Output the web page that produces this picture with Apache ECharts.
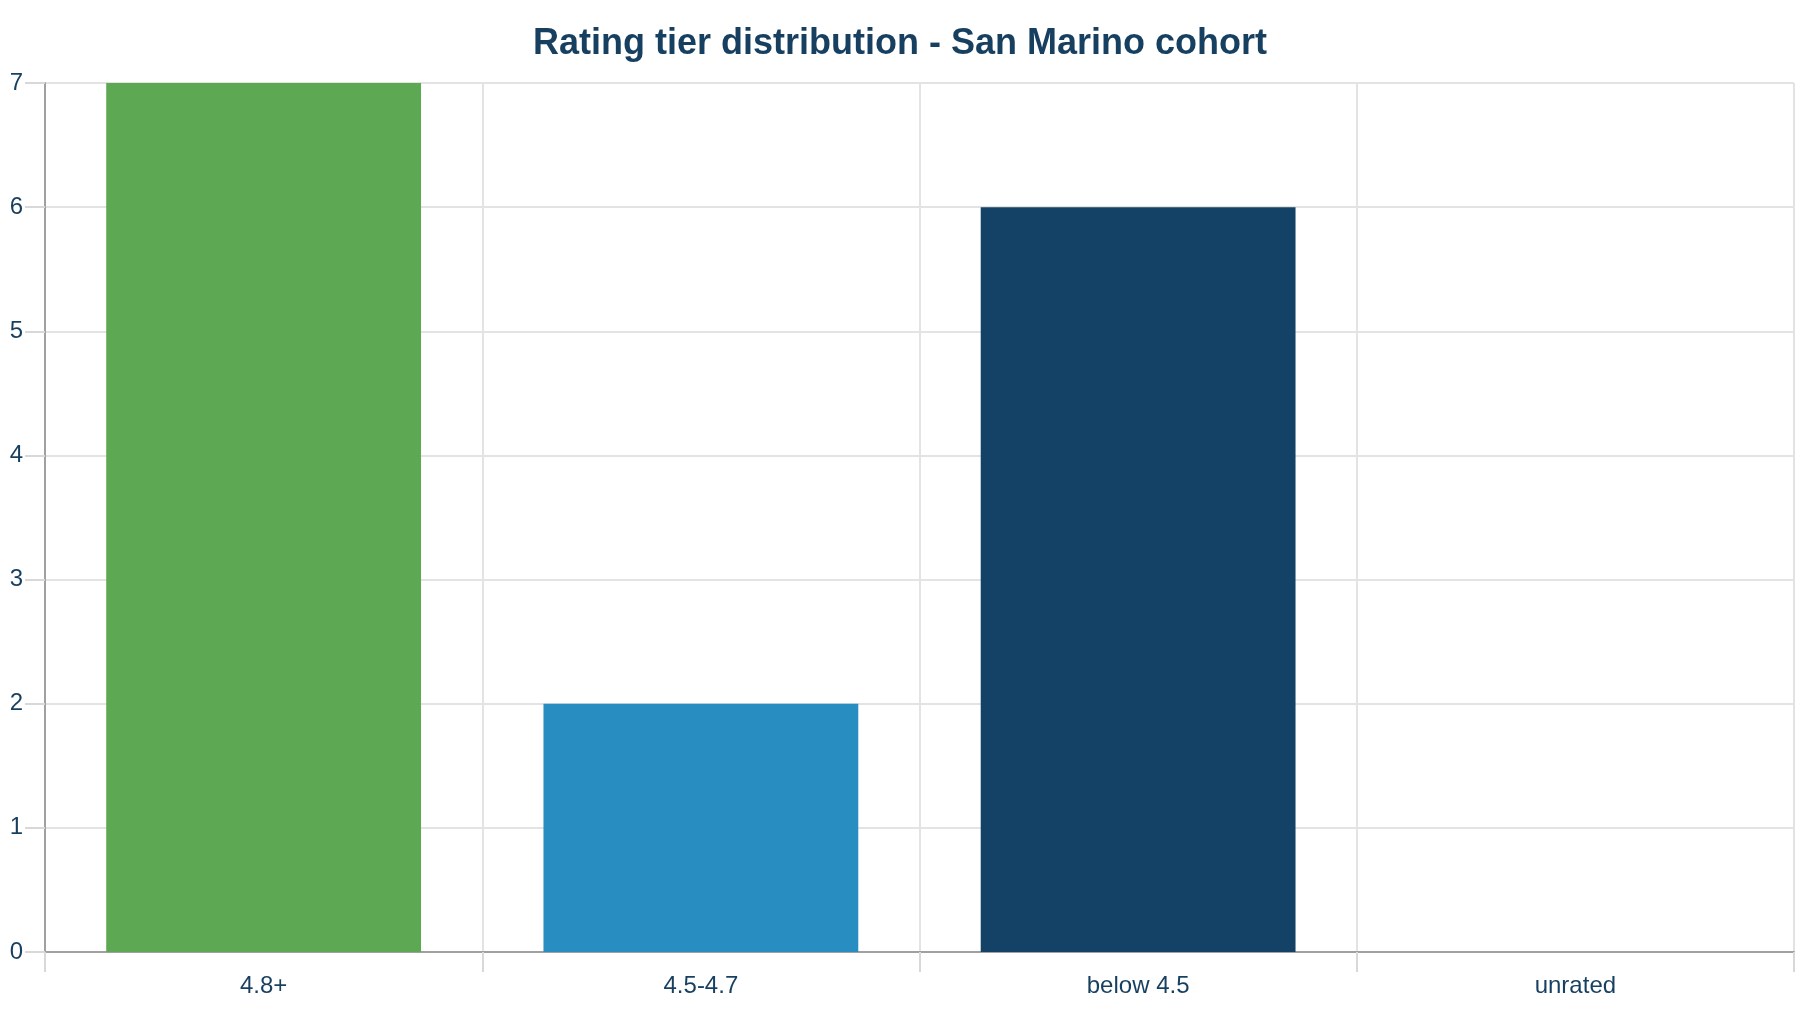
<!DOCTYPE html>
<html>
<head>
<meta charset="utf-8">
<title>Rating tier distribution</title>
<script src="https://cdn.jsdelivr.net/npm/echarts@6/dist/echarts.min.js"></script>
<style>
  html, body { margin: 0; padding: 0; background: #fff; }
  #container { width: 1800px; height: 1012px; }
</style>
</head>
<body>
<div id="container"></div>
<script>
// data
var tiers = ['4.8+', '4.5-4.7', 'below 4.5', 'unrated'];
var counts = [7, 2, 6, 0];
var tierColors = ['#5da852', '#288dc1', '#134266', '#9aa9b8'];

var navy = '#173f5f';

var option = {
    backgroundColor: '#ffffff',
    animation: false,
    textStyle: { fontFamily: '"Liberation Sans", Arial, sans-serif' },
    title: {
        text: 'Rating tier distribution - San Marino cohort',
        left: 'center',
        top: 21,
        textStyle: {
            color: navy,
            fontSize: 36,
            fontWeight: 'bold',
            fontFamily: '"Liberation Sans", Arial, sans-serif'
        }
    },
    grid: {
        left: 45,
        right: 6,
        top: 83,
        bottom: 60,
        containLabel: false
    },
    xAxis: {
        type: 'category',
        data: tiers,
        boundaryGap: true,
        axisLine: { show: true, lineStyle: { color: '#a0a0a0', width: 2 } },
        axisTick: { show: true, length: 20, alignWithLabel: false, lineStyle: { color: '#d8d8d8', width: 2 } },
        axisLabel: { color: navy, fontSize: 24, margin: 22 },
        splitLine: { show: true, lineStyle: { color: '#e3e3e3', width: 2 } }
    },
    yAxis: {
        type: 'value',
        min: 0,
        max: 7,
        interval: 1,
        axisLine: { show: true, lineStyle: { color: '#a0a0a0', width: 2 } },
        axisTick: { show: true, length: 20, lineStyle: { color: '#d8d8d8', width: 2 } },
        axisLabel: { color: navy, fontSize: 24, margin: 22 },
        splitLine: { show: true, lineStyle: { color: '#e3e3e3', width: 2 } }
    },
    series: [{
        type: 'bar',
        barWidth: '72%',
        // 每个柱子单独上色
        data: counts.map(function (v, i) {
            return { value: v, itemStyle: { color: tierColors[i] } };
        })
    }]
};

var myChart = echarts.init(document.getElementById('container'));
myChart.setOption(option);
</script>
</body>
</html>
